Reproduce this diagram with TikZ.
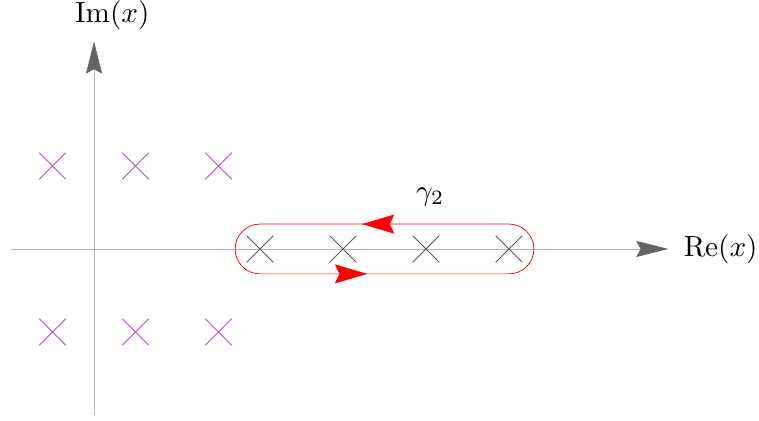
\documentclass[tikz,border=0pt]{standalone}
\usepackage{amsmath,amssymb}
\usepackage{xcolor}
\usepackage{tikz}
\usetikzlibrary{positioning,arrows.meta,shapes.misc}

\definecolor{polecol}{RGB}{180,80,195}
\definecolor{axiscol}{RGB}{185,185,185}
\definecolor{tipcol}{RGB}{100,100,100}

\tikzset{
  axisline/.style={draw=axiscol,line width=0.25pt,
    -{Stealth[length=11pt,width=5.5pt,inset=1.5pt,color=tipcol]}},
  pole/.style={cross out,draw=polecol,line width=0.3pt,minimum size=0.31cm,inner sep=0pt},
  cutpole/.style={cross out,draw=black!65,line width=0.3pt,minimum size=0.31cm,inner sep=0pt},
  flow/.style={red,line width=0.25pt,
    -{Stealth[length=11pt,width=6.5pt,inset=1.5pt]}}
}

\begin{document}
\begin{tikzpicture}
  \useasboundingbox (-1.133,-2.072) rectangle (8.012,3.0);
  % axes
  \coordinate (xl) at (-1,0);
  \coordinate (xr) at (6.92,0);
  \coordinate (yb) at (0,-2);
  \coordinate (yt) at (0,2.5);
  \draw[axisline] (xl) -- (xr);
  \draw[axisline] (yb) -- (yt);
  \node (re) at (7.55,0) {$\mathrm{Re}(x)$};
  \node (im) at (0.22,2.82) {$\mathrm{Im}(x)$};
  % poles off the axis
  \foreach \i in {0,1,2} {
    \node[pole] (u\i) at (\i-0.5,1) {};
    \node[pole] (d\i) at (\i-0.5,-1) {};
  }
  % poles on the real axis
  \foreach \i in {1,...,4}
    \node[cutpole] (p\i) at (\i+1,0) {};
  % contour gamma_2
  \draw[red,line width=0.25pt] (2,-0.3) -- (5,-0.3) arc (-90:90:0.3)
    -- (2,0.3) arc (90:270:0.3);
  \coordinate (ba) at (3.1,-0.3);
  \coordinate (bb) at (3.29,-0.3);
  \coordinate (ta) at (3.4,0.3);
  \coordinate (tb) at (3.23,0.3);
  \draw[flow] (ba) -- (bb);
  \draw[flow] (ta) -- (tb);
  \node (gam) at (4.05,0.63) {$\gamma_2$};
\end{tikzpicture}
\end{document}
